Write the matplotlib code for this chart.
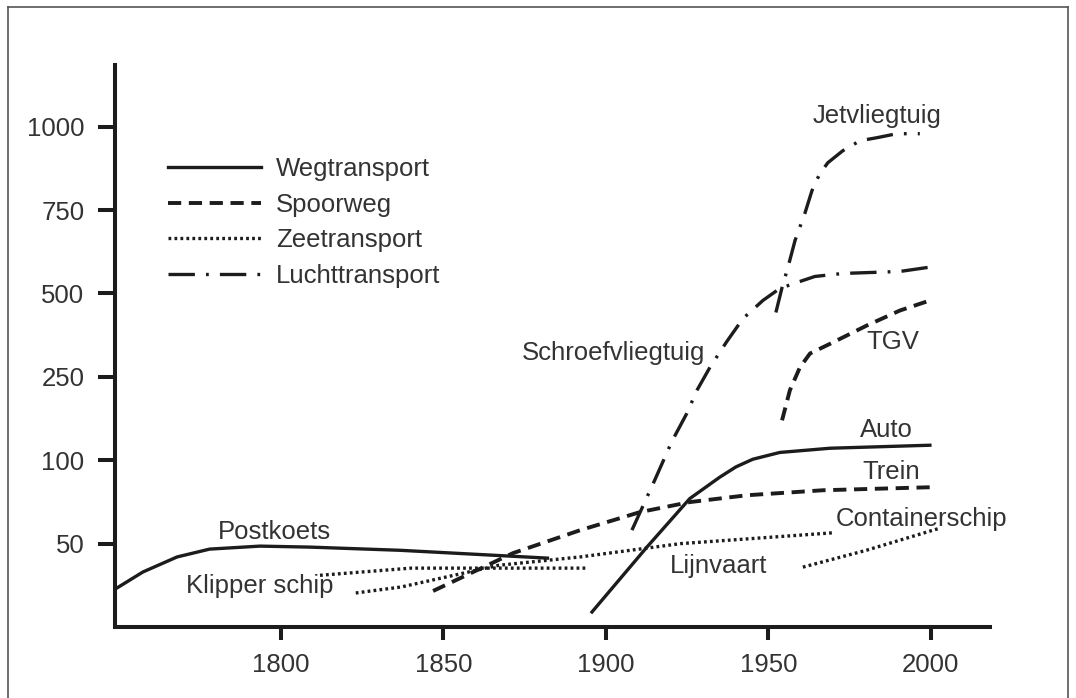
import numpy as np
import matplotlib
matplotlib.use('Agg')
import matplotlib.pyplot as plt
from matplotlib.lines import Line2D

plt.rcParams['font.family'] = ['Liberation Sans', 'DejaVu Sans']
plt.rcParams['lines.scale_dashes'] = False

# y axis: equal spacing between uneven tick values
y_nodes = [0, 50, 100, 250, 500, 750, 1000, 1250]
y_ticks = [50, 100, 250, 500, 750, 1000]
x_ticks = [1800, 1850, 1900, 1950, 2000]

# Wegtransport
postkoets_x = [1749.5, 1757.5, 1768, 1778, 1793.5, 1809, 1836.6, 1870.5, 1882]
postkoets_y = [23.4, 33, 42, 46.7, 48.5, 47.9, 46, 42.5, 41.3]
auto_x = [1895.7, 1912.6, 1925.8, 1935, 1940, 1945.2, 1953.5, 1969, 1999.7]
auto_y = [9, 47.9, 77, 89.8, 96, 101.8, 114, 121.6, 127]

# Spoorweg
trein_x = [1846.8, 1871.4, 1892, 1910.5, 1925.8, 1943.4, 1966.8, 1999.7]
trein_y = [21.6, 44.3, 58, 68.9, 74.9, 79, 82, 83.8]
tgv_x = [1954.2, 1956.6, 1959.7, 1962.8, 1969.8, 1980.3, 1990.5, 1999.7]
tgv_y = [171.8, 225.7, 278.5, 320, 353, 404, 449, 479]

# Zeetransport
klipper_x = [1812, 1840, 1867, 1894]
klipper_y = [31, 35.3, 35.3, 35.3]
lijnvaart_x = [1823, 1837, 1867, 1892, 1923, 1970]
lijnvaart_y = [20.4, 24, 37, 42, 50, 56.5]
container_x = [1960.6, 1980.3, 2002.8]
container_y = [35.9, 46.1, 59.3]

# Luchttransport
schroef_x = [1908, 1915, 1920.3, 1924.9, 1928, 1932, 1937.2, 1942.2, 1948.3,
             1953.5, 1958.8, 1964.3, 1972.9, 1981.8, 1990.5, 1999]
schroef_y = [58.1, 88, 134, 184.4, 225.7, 278.5, 356, 425, 479,
             515, 533, 551, 560, 563, 566, 578]
jet_x = [1952.3, 1954.2, 1956, 1958.2, 1961.2, 1963.4, 1965.8, 1968.3,
         1972.9, 1978.2, 1983.4, 1989.5, 1996.6]
jet_y = [443, 518, 578, 659, 739.5, 808, 859, 892, 928, 958, 967, 979, 979]

legend_labels = ['Wegtransport', 'Spoorweg', 'Zeetransport', 'Luchttransport']

curve_labels = [
  ('Jetvliegtuig', 1963.7, 1033),
  ('Schroefvliegtuig', 1874.2, 323),
  ('TGV', 1980, 353),
  ('Auto', 1978.2, 154),
  ('Trein', 1979, 93),
  ('Containerschip', 1970.8, 64.7),
  ('Lijnvaart', 1919.7, 36.5),
  ('Postkoets', 1780.6, 56.9),
  ('Klipper schip', 1770.8, 24.5),
]

idx = np.arange(len(y_nodes), dtype=float)
def fwd(v):
  return np.interp(v, y_nodes, idx)
def inv(k):
  return np.interp(k, idx, y_nodes)

ink = '#1c1c1c'
txt = '#333333'
lw = 2.4
fs = 18.5
styles = {
  'solid': '-',
  'dashed': (0, (9.5, 5.5)),
  'dotted': (0, (2.0, 2.3)),
  'dashdot': (0, (19, 8, 2, 8)),
}

fig = plt.figure(figsize=(10.76, 6.98), dpi=100)
ax = fig.add_axes([115/1076, 1 - 627/698, 875/1076, 562/698])
ax.set_yscale('function', functions=(fwd, inv))

ax.plot(postkoets_x, postkoets_y, color=ink, lw=lw, ls=styles['solid'], label=legend_labels[0])
ax.plot(auto_x, auto_y, color=ink, lw=lw, ls=styles['solid'])
ax.plot(trein_x, trein_y, color=ink, lw=lw + 0.4, ls=styles['dashed'], label=legend_labels[1])
ax.plot(tgv_x, tgv_y, color=ink, lw=lw + 0.4, ls=styles['dashed'])
ax.plot(klipper_x, klipper_y, color=ink, lw=lw, ls=styles['dotted'], label=legend_labels[2])
ax.plot(lijnvaart_x, lijnvaart_y, color=ink, lw=lw, ls=styles['dotted'])
ax.plot(container_x, container_y, color=ink, lw=lw, ls=styles['dotted'])
ax.plot(schroef_x, schroef_y, color=ink, lw=lw, ls=styles['dashdot'], label=legend_labels[3])
ax.plot(jet_x, jet_y, color=ink, lw=lw, ls=styles['dashdot'])

for name, x, y in curve_labels:
  ax.text(x, y, name, fontsize=fs, color=txt, ha='left', va='center')

ax.set_xlim(1748.9, 2018.2)
ax.set_ylim(0, inv(6.74))
ax.set_xticks(x_ticks)
ax.set_xticklabels([str(t) for t in x_ticks])
ax.set_yticks(y_ticks)
ax.set_yticklabels([str(t) for t in y_ticks])
ax.yaxis.set_minor_locator(matplotlib.ticker.NullLocator())

for s in ['top', 'right']:
  ax.spines[s].set_visible(False)
for s in ['left', 'bottom']:
  ax.spines[s].set_linewidth(2.9)
  ax.spines[s].set_color(ink)
ax.tick_params(axis='y', direction='out', length=12, width=2.9, pad=10,
               labelsize=fs, labelcolor=txt, color=ink)
ax.tick_params(axis='x', direction='out', length=9.5, width=2.9, pad=9,
               labelsize=fs, labelcolor=txt, color=ink)

leg = ax.legend(loc='upper left', bbox_to_anchor=(0.0606, 0.836), frameon=False,
                fontsize=fs, handlelength=3.6, handletextpad=0.6,
                labelspacing=0.45, borderpad=0, borderaxespad=0)
for t in leg.get_texts():
  t.set_color(txt)

# thin frame round the picture
fc = '#555555'
fig.add_artist(Line2D([8/1076, 8/1076], [0, 1 - 7/698], transform=fig.transFigure, color=fc, lw=1.2))
fig.add_artist(Line2D([8/1076, 1068/1076], [1 - 7/698, 1 - 7/698], transform=fig.transFigure, color=fc, lw=1.2))
fig.add_artist(Line2D([1068/1076, 1068/1076], [0, 1 - 7/698], transform=fig.transFigure, color=fc, lw=1.2))

fig.savefig('out.png', dpi=100)
